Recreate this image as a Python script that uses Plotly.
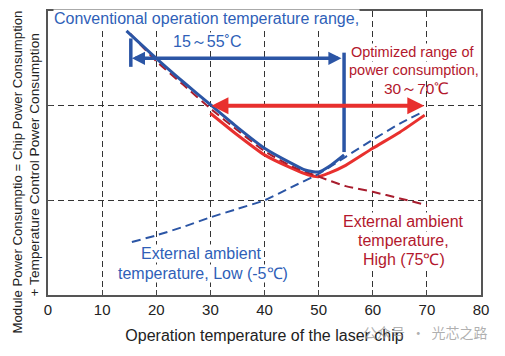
import plotly.graph_objects as go

# ---------------- data ----------------
x_ticks = [0, 10, 20, 30, 40, 50, 60, 70, 80]

# Conventional total power (blue solid)
x_conv = [14.5, 20, 25, 30, 35, 40, 45, 47.5, 50, 52, 54.7]
y_conv = [2.79, 2.50, 2.25, 2.01, 1.77, 1.55, 1.39, 1.32, 1.30, 1.36, 1.48]

# Optimized total power (red solid)
x_opt = [30, 35, 40, 45, 48, 50, 52, 55, 60, 65, 69.6]
y_opt = [1.92, 1.69, 1.48, 1.34, 1.27, 1.25, 1.29, 1.37, 1.55, 1.72, 1.90]

# External ambient high 75C (dark red dashed)
x_high = [15.2, 20, 25, 30, 35, 40, 45, 50, 55, 60, 65, 70]
y_high = [2.76, 2.47, 2.22, 1.97, 1.74, 1.52, 1.36, 1.25, 1.15, 1.09, 1.02, 0.95]

# External ambient low -5C (blue dashed)
x_low = [15.5, 20, 25, 30, 35, 40, 45, 50, 55, 60, 65, 69.5]
y_low = [0.56, 0.63, 0.72, 0.82, 0.91, 1.00, 1.14, 1.28, 1.46, 1.64, 1.81, 1.94]

conv_range = [15.3, 54.7]   # 15~55 C
conv_level = 2.5
opt_range = [30.2, 69.8]    # 30~70 C
opt_level = 2.0

y_title_lines = ["Module Power Consumptio = Chip Power Consumption",
                 "+ Temperature Control Power Consumption"]

# ---------------- styles ----------------
BLUE = "#2b55a5"
RED = "#e8302e"
DARKRED = "#a81d2e"
BLUE_TXT = "#2f5fb8"
RED_TXT = "#b3182d"
FONT = "Liberation Sans, Arial, sans-serif"

fig = go.Figure()

fig.add_trace(go.Scatter(x=x_opt, y=y_opt, mode="lines",
                         line=dict(color=RED, width=3, shape="spline", smoothing=0.6)))
fig.add_trace(go.Scatter(x=x_low, y=y_low, mode="lines",
                         line=dict(color=BLUE, width=2, dash="9px,5px", shape="spline", smoothing=0.6)))
fig.add_trace(go.Scatter(x=x_high, y=y_high, mode="lines",
                         line=dict(color=DARKRED, width=2, dash="9px,5px", shape="spline", smoothing=0.6)))
fig.add_trace(go.Scatter(x=x_conv, y=y_conv, mode="lines",
                         line=dict(color=BLUE, width=3, shape="spline", smoothing=0.6)))

# range bars of the conventional arrow
fig.add_shape(type="line", xref="x", yref="y", x0=conv_range[0], x1=conv_range[0],
              y0=conv_level - 0.09, y1=conv_level + 0.21, line=dict(color=BLUE, width=3.5))
fig.add_shape(type="line", xref="x", yref="y", x0=conv_range[1], x1=conv_range[1],
              y0=y_conv[-1] + 0.03, y1=conv_level + 0.06, line=dict(color=BLUE, width=3.5))

# double arrows
fig.add_annotation(x=conv_range[0] + 0.2, y=conv_level, ax=conv_range[1] - 0.2, ay=conv_level,
                   xref="x", yref="y", axref="x", ayref="y", text="", showarrow=True,
                   arrowhead=2, startarrowhead=2, arrowside="end+start",
                   arrowsize=0.75, startarrowsize=0.75, arrowwidth=3.5, arrowcolor=BLUE)
fig.add_annotation(x=opt_range[0], y=opt_level, ax=opt_range[1], ay=opt_level,
                   xref="x", yref="y", axref="x", ayref="y", text="", showarrow=True,
                   arrowhead=2, startarrowhead=2, arrowside="end+start",
                   arrowsize=0.85, startarrowsize=0.85, arrowwidth=4, arrowcolor=RED)


def label(txt, x, y, color, size, bg=True):
    fig.add_annotation(x=x, y=y, xref="x", yref="y", text=txt, showarrow=False,
                       xanchor="center", yanchor="middle",
                       font=dict(family=FONT, size=size, color=color),
                       bgcolor="white" if bg else None, borderpad=0)


label("Conventional operation temperature range,", 29.2, 2.92, BLUE_TXT, 16)
label("15～55˚C", 29.4, 2.68, BLUE_TXT, 16)
label("Optimized range of", 67.4, 2.57, RED_TXT, 14.5)
label("power consumption,", 67.6, 2.38, RED_TXT, 14.5)
label("30～70℃", 68.0, 2.18, RED_TXT, 15.5, bg=False)
label("External ambient", 28.3, 0.44, BLUE_TXT, 16)
label("temperature, Low (-5℃)", 28.6, 0.23, BLUE_TXT, 16)
label("External ambient", 65.6, 0.78, RED_TXT, 16)
label("temperature,", 65.6, 0.58, RED_TXT, 16)
label("High (75℃)", 65.8, 0.38, RED_TXT, 16)

# y-axis title (two lines, rotated)
fig.add_annotation(x=-0.0716, y=0.435, xref="paper", yref="paper",
                   text=y_title_lines[0], textangle=-90, showarrow=False,
                   xanchor="center", yanchor="middle",
                   font=dict(family=FONT, size=13.2, color="#222"))
fig.add_annotation(x=-0.0323, y=0.456, xref="paper", yref="paper",
                   text=y_title_lines[1], textangle=-90, showarrow=False,
                   xanchor="center", yanchor="middle",
                   font=dict(family=FONT, size=13.7, color="#222"))

# watermark
fig.add_annotation(x=1.02, y=-0.13, xref="paper", yref="paper",
                   text="公众号  ·  光芯之路", showarrow=False, xanchor="right", yanchor="middle",
                   font=dict(family="Noto Sans CJK SC, sans-serif", size=14, color="rgba(150,150,150,0.75)"))

fig.update_layout(
    width=505, height=356,
    margin=dict(l=40, r=32, t=3, b=69, autoexpand=False),
    paper_bgcolor="white", plot_bgcolor="white",
    showlegend=False,
    font=dict(family=FONT, color="#222"),
    xaxis=dict(range=[0, 80], tickvals=x_ticks, ticktext=[str(v) for v in x_ticks],
               tickfont=dict(size=15, color="#222"),
               ticks="inside", ticklen=5, tickcolor="#444",
               showline=True, linecolor="#555", linewidth=1.8, mirror=True,
               showgrid=True, gridcolor="#333", gridwidth=1, griddash="6px,4px",
               zeroline=False, automargin=False,
               title=dict(text="Operation temperature of the laser chip",
                          font=dict(size=16, color="#222"), standoff=13)),
    yaxis=dict(range=[0, 3], tickvals=[1, 2], showticklabels=False,
               ticks="inside", ticklen=5, tickcolor="#444",
               showline=True, linecolor="#555", linewidth=1.8, mirror=True,
               showgrid=True, gridcolor="#333", gridwidth=1, griddash="6px,4px",
               zeroline=False, automargin=False),
)

fig.write_html("out.html")
